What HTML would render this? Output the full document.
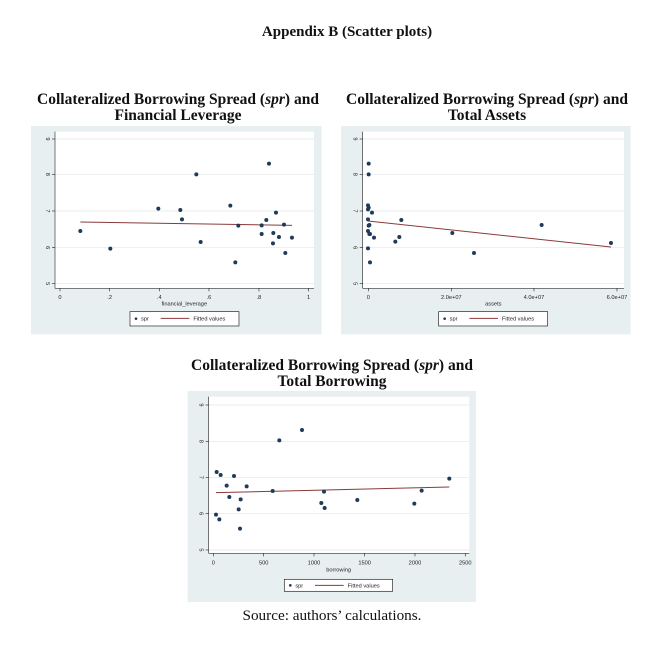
<!DOCTYPE html>
<html><head><meta charset="utf-8"><style>
html,body{margin:0;padding:0;background:#fff;}
svg{display:block;}
.t{font-family:"Liberation Serif",serif;font-weight:bold;font-size:15.5px;fill:#111;}
.s{font-family:"Liberation Sans",sans-serif;fill:#222;}
</style></head><body>
<svg width="672" height="652" viewBox="0 0 672 652" xmlns="http://www.w3.org/2000/svg">
<text class="t" x="347" y="36" text-anchor="middle" style="font-size:15px">Appendix B (Scatter plots)</text>
<text class="t" x="178" y="104" text-anchor="middle">Collateralized Borrowing Spread (<tspan font-style="italic">spr</tspan>) and</text>
<text class="t" x="178" y="120" text-anchor="middle">Financial Leverage</text>
<text class="t" x="487" y="104" text-anchor="middle">Collateralized Borrowing Spread (<tspan font-style="italic">spr</tspan>) and</text>
<text class="t" x="487" y="120" text-anchor="middle">Total Assets</text>
<text class="t" x="332" y="370" text-anchor="middle">Collateralized Borrowing Spread (<tspan font-style="italic">spr</tspan>) and</text>
<text class="t" x="332" y="386" text-anchor="middle">Total Borrowing</text>
<text x="332" y="620" text-anchor="middle" font-family="Liberation Serif,serif" font-size="15.2" fill="#111">Source: authors’ calculations.</text>

<!-- Chart 1 -->
<g transform="translate(30,125) scale(0.3333)">
<rect x="3" y="3" width="872" height="625" fill="#e8eff0"/>
<rect x="75" y="20" width="777" height="470" fill="#fff"/>
<g stroke="#e2e6e6" stroke-width="2"><line x1="75" x2="852" y1="42" y2="42"/><line x1="75" x2="852" y1="148" y2="148"/><line x1="75" x2="852" y1="258" y2="258"/><line x1="75" x2="852" y1="368" y2="368"/><line x1="75" x2="852" y1="476" y2="476"/></g>
<g stroke="#333" stroke-width="2"><line x1="75" x2="75" y1="20" y2="490"/><line x1="75" x2="852" y1="490" y2="490"/>
<line x1="66" x2="75" y1="42" y2="42"/><line x1="66" x2="75" y1="148" y2="148"/><line x1="66" x2="75" y1="258" y2="258"/><line x1="66" x2="75" y1="368" y2="368"/><line x1="66" x2="75" y1="476" y2="476"/>
<line x1="90" x2="90" y1="490" y2="499"/><line x1="239" x2="239" y1="490" y2="499"/><line x1="388" x2="388" y1="490" y2="499"/><line x1="537" x2="537" y1="490" y2="499"/><line x1="687" x2="687" y1="490" y2="499"/><line x1="836" x2="836" y1="490" y2="499"/></g>
<g class="s" font-size="17" text-anchor="middle"><text transform="translate(54,42) rotate(90)" dy="6">9</text><text transform="translate(54,148) rotate(90)" dy="6">8</text><text transform="translate(54,258) rotate(90)" dy="6">7</text><text transform="translate(54,368) rotate(90)" dy="6">6</text><text transform="translate(54,476) rotate(90)" dy="6">5</text>
<text x="90" y="522">0</text><text x="239" y="522">.2</text><text x="388" y="522">.4</text><text x="537" y="522">.6</text><text x="687" y="522">.8</text><text x="836" y="522">1</text><text x="463" y="542">financial_leverage</text></g>
<line x1="151" y1="291" x2="786" y2="301" stroke="#8b3a3a" stroke-width="3"/>
<g fill="#1f3a5a"><circle cx="151" cy="318" r="6"/><circle cx="241" cy="371" r="6"/><circle cx="385" cy="251" r="6"/><circle cx="451" cy="255" r="6"/><circle cx="456" cy="283" r="6"/><circle cx="499" cy="148" r="6"/><circle cx="512" cy="351" r="6"/><circle cx="601" cy="242" r="6"/><circle cx="616" cy="412" r="6"/><circle cx="625" cy="302" r="6"/><circle cx="695" cy="301" r="6"/><circle cx="695" cy="327" r="6"/><circle cx="709" cy="285" r="6"/><circle cx="717" cy="116" r="6"/><circle cx="730" cy="324" r="6"/><circle cx="729" cy="355" r="6"/><circle cx="738" cy="263" r="6"/><circle cx="747" cy="336" r="6"/><circle cx="762" cy="299" r="6"/><circle cx="766" cy="384" r="6"/><circle cx="786" cy="338" r="6"/></g>
<rect x="300" y="560" width="327" height="43" fill="#fff" stroke="#222" stroke-width="2"/>
<circle cx="318" cy="581" r="4" fill="#1f3a5a"/><text class="s" x="333" y="587" font-size="17">spr</text>
<line x1="392" x2="478" y1="580" y2="580" stroke="#8b3a3a" stroke-width="3"/><text class="s" x="490" y="587" font-size="17">Fitted values</text>
</g>

<!-- Chart 2 -->
<g transform="translate(340,125) scale(0.3333)">
<rect x="3" y="3" width="869" height="625" fill="#e8eff0"/>
<rect x="68" y="20" width="784" height="470" fill="#fff"/>
<g stroke="#e2e6e6" stroke-width="2"><line x1="68" x2="852" y1="42" y2="42"/><line x1="68" x2="852" y1="148" y2="148"/><line x1="68" x2="852" y1="258" y2="258"/><line x1="68" x2="852" y1="368" y2="368"/><line x1="68" x2="852" y1="476" y2="476"/></g>
<g stroke="#333" stroke-width="2"><line x1="68" x2="68" y1="20" y2="490"/><line x1="68" x2="852" y1="490" y2="490"/>
<line x1="59" x2="68" y1="42" y2="42"/><line x1="59" x2="68" y1="148" y2="148"/><line x1="59" x2="68" y1="258" y2="258"/><line x1="59" x2="68" y1="368" y2="368"/><line x1="59" x2="68" y1="476" y2="476"/>
<line x1="85" x2="85" y1="490" y2="499"/><line x1="334" x2="334" y1="490" y2="499"/><line x1="582" x2="582" y1="490" y2="499"/><line x1="831" x2="831" y1="490" y2="499"/></g>
<g class="s" font-size="17" text-anchor="middle"><text transform="translate(47,42) rotate(90)" dy="6">9</text><text transform="translate(47,148) rotate(90)" dy="6">8</text><text transform="translate(47,258) rotate(90)" dy="6">7</text><text transform="translate(47,368) rotate(90)" dy="6">6</text><text transform="translate(47,476) rotate(90)" dy="6">5</text>
<text x="85" y="522">0</text><text x="334" y="522">2.0e+07</text><text x="582" y="522">4.0e+07</text><text x="831" y="522">6.0e+07</text><text x="460" y="542">assets</text></g>
<line x1="84" y1="288" x2="813" y2="366" stroke="#8b3a3a" stroke-width="3"/>
<g fill="#1f3a5a"><circle cx="86" cy="116" r="6"/><circle cx="86" cy="148" r="6"/><circle cx="84" cy="241" r="6"/><circle cx="86" cy="248" r="6"/><circle cx="84" cy="253" r="6"/><circle cx="84" cy="283" r="6"/><circle cx="96" cy="263" r="6"/><circle cx="88" cy="300" r="6"/><circle cx="86" cy="302" r="6"/><circle cx="84" cy="318" r="6"/><circle cx="88" cy="327" r="6"/><circle cx="90" cy="327" r="6"/><circle cx="102" cy="338" r="6"/><circle cx="84" cy="370" r="6"/><circle cx="90" cy="412" r="6"/><circle cx="166" cy="350" r="6"/><circle cx="178" cy="336" r="6"/><circle cx="184" cy="285" r="6"/><circle cx="337" cy="324" r="6"/><circle cx="402" cy="384" r="6"/><circle cx="605" cy="300" r="6"/><circle cx="813" cy="354" r="6"/></g>
<rect x="296" y="560" width="327" height="43" fill="#fff" stroke="#222" stroke-width="2"/>
<circle cx="314" cy="581" r="4" fill="#1f3a5a"/><text class="s" x="329" y="587" font-size="17">spr</text>
<line x1="388" x2="474" y1="580" y2="580" stroke="#8b3a3a" stroke-width="3"/><text class="s" x="486" y="587" font-size="17">Fitted values</text>
</g>

<!-- Chart 3 -->
<g transform="translate(186,390) scale(0.3333)">
<rect x="5" y="3" width="865" height="633" fill="#e8eff0"/>
<rect x="68" y="20" width="782" height="470" fill="#fff"/>
<g stroke="#e2e6e6" stroke-width="2"><line x1="68" x2="850" y1="45" y2="45"/><line x1="68" x2="850" y1="154" y2="154"/><line x1="68" x2="850" y1="262" y2="262"/><line x1="68" x2="850" y1="371" y2="371"/><line x1="68" x2="850" y1="480" y2="480"/></g>
<g stroke="#333" stroke-width="2"><line x1="68" x2="68" y1="20" y2="490"/><line x1="68" x2="850" y1="490" y2="490"/>
<line x1="59" x2="68" y1="45" y2="45"/><line x1="59" x2="68" y1="154" y2="154"/><line x1="59" x2="68" y1="262" y2="262"/><line x1="59" x2="68" y1="371" y2="371"/><line x1="59" x2="68" y1="480" y2="480"/>
<line x1="82" x2="82" y1="490" y2="499"/><line x1="233" x2="233" y1="490" y2="499"/><line x1="384" x2="384" y1="490" y2="499"/><line x1="536" x2="536" y1="490" y2="499"/><line x1="687" x2="687" y1="490" y2="499"/><line x1="838" x2="838" y1="490" y2="499"/></g>
<g class="s" font-size="17" text-anchor="middle"><text transform="translate(47,45) rotate(90)" dy="6">9</text><text transform="translate(47,154) rotate(90)" dy="6">8</text><text transform="translate(47,262) rotate(90)" dy="6">7</text><text transform="translate(47,371) rotate(90)" dy="6">6</text><text transform="translate(47,480) rotate(90)" dy="6">5</text>
<text x="82" y="524">0</text><text x="233" y="524">500</text><text x="384" y="524">1000</text><text x="536" y="524">1500</text><text x="687" y="524">2000</text><text x="838" y="524">2500</text><text x="458" y="545">borrowing</text></g>
<line x1="90" y1="308" x2="790" y2="291" stroke="#8b3a3a" stroke-width="3"/>
<g fill="#1f3a5a"><circle cx="92" cy="246" r="6"/><circle cx="104" cy="255" r="6"/><circle cx="90" cy="374" r="6"/><circle cx="100" cy="388" r="6"/><circle cx="122" cy="287" r="6"/><circle cx="130" cy="321" r="6"/><circle cx="144" cy="258" r="6"/><circle cx="158" cy="358" r="6"/><circle cx="164" cy="328" r="6"/><circle cx="162" cy="416" r="6"/><circle cx="182" cy="289" r="6"/><circle cx="260" cy="303" r="6"/><circle cx="280" cy="151" r="6"/><circle cx="348" cy="120" r="6"/><circle cx="406" cy="339" r="6"/><circle cx="414" cy="305" r="6"/><circle cx="416" cy="354" r="6"/><circle cx="514" cy="330" r="6"/><circle cx="685" cy="341" r="6"/><circle cx="707" cy="302" r="6"/><circle cx="790" cy="266" r="6"/></g>
<rect x="295" y="568" width="325" height="36" fill="#fff" stroke="#222" stroke-width="2"/>
<circle cx="313" cy="586" r="4" fill="#1f3a5a"/><text class="s" x="328" y="592" font-size="17">spr</text>
<line x1="387" x2="473" y1="586" y2="586" stroke="#8b3a3a" stroke-width="3"/><text class="s" x="485" y="592" font-size="17">Fitted values</text>
</g>
</svg>
</body></html>
